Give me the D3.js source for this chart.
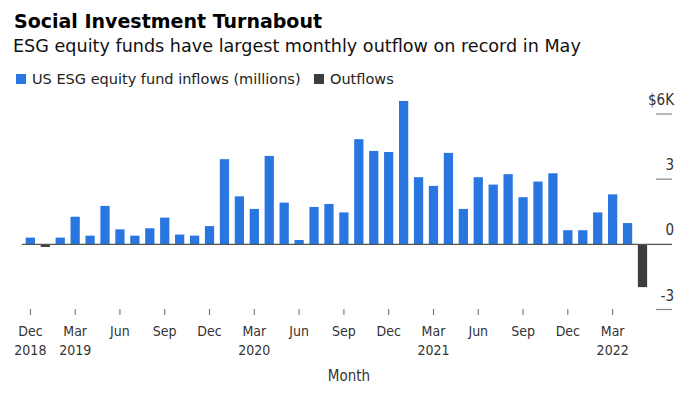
<!DOCTYPE html>
<html>
<head>
<meta charset="utf-8">
<script src="https://cdn.jsdelivr.net/npm/d3@7"></script>
<style>
  body { margin: 0; background: #fff; }
  svg { display: block; font-family: "DejaVu Sans", sans-serif; }
  .title { font-weight: bold; font-size: 19px; fill: #000; }
  .subtitle { font-size: 17.6px; fill: #111; }
  .legend { font-size: 14.5px; fill: #222; }
  .cond { font-family: "DejaVu Sans Condensed", "DejaVu Sans", sans-serif; }
  .tick text { font-size: 14px; fill: #333; }
</style>
</head>
<body>
<svg id="chart" width="700" height="394"></svg>
<script>
// months, Dec 2018 .. May 2022
var months = ["2018-12",
  "2019-01","2019-02","2019-03","2019-04","2019-05","2019-06","2019-07","2019-08","2019-09","2019-10","2019-11","2019-12",
  "2020-01","2020-02","2020-03","2020-04","2020-05","2020-06","2020-07","2020-08","2020-09","2020-10","2020-11","2020-12",
  "2021-01","2021-02","2021-03","2021-04","2021-05","2021-06","2021-07","2021-08","2021-09","2021-10","2021-11","2021-12",
  "2022-01","2022-02","2022-03","2022-04","2022-05"];

// net flows, $ billions (axis shows thousands of millions)
var flows = [0.31,
  -0.12,0.31,1.27,0.40,1.77,0.69,0.40,0.74,1.23,0.45,0.40,0.84,
  3.92,2.21,1.63,4.07,1.92,0.20,1.72,1.86,1.47,4.84,4.30,4.25,
  6.60,3.09,2.69,4.21,1.63,3.09,2.75,3.23,2.17,2.89,3.27,0.65,
  0.65,1.47,2.30,0.98,-1.97];

var xTicks = ["2018-12","2019-03","2019-06","2019-09","2019-12","2020-03","2020-06","2020-09","2020-12","2021-03","2021-06","2021-09","2021-12","2022-03"];
var yTicks = [-3, 0, 3, 6];
var monthNames = ["Jan","Feb","Mar","Apr","May","Jun","Jul","Aug","Sep","Oct","Nov","Dec"];

var inflowColor = "#2a76e0",
    outflowColor = "#3d3d3d";

var svg = d3.select("#chart");

// title block
svg.append("text").attr("class", "title").attr("x", 14).attr("y", 28).text("Social Investment Turnabout");
svg.append("text").attr("class", "subtitle").attr("x", 13).attr("y", 52)
  .text("ESG equity funds have largest monthly outflow on record in May");

// legend
var legend = svg.append("g").attr("class", "legend");
legend.append("rect").attr("x", 16).attr("y", 74).attr("width", 10).attr("height", 10).attr("fill", inflowColor);
legend.append("text").attr("x", 32).attr("y", 84).text("US ESG equity fund inflows (millions)");
legend.append("rect").attr("x", 314).attr("y", 74).attr("width", 10).attr("height", 10).attr("fill", outflowColor);
legend.append("text").attr("x", 330).attr("y", 84).text("Outflows");

var x = d3.scaleBand()
  .domain(months)
  .range([22.9, 22.9 + 14.93 * months.length])
  .paddingInner(0.38)
  .paddingOuter(0.19);

var y = d3.scaleLinear().domain([-3, 6]).range([309.5, 114]);

// bars
svg.append("g").selectAll("rect")
  .data(flows)
  .join("rect")
    .attr("x", function(d, i) { return x(months[i]); })
    .attr("width", x.bandwidth())
    .attr("y", function(d) { return y(Math.max(0, d)); })
    .attr("height", function(d) { return Math.abs(y(d) - y(0)); })
    .attr("fill", function(d) { return d < 0 ? outflowColor : inflowColor; });

// zero line
svg.append("line")
  .attr("x1", 22).attr("x2", 672)
  .attr("y1", y(0)).attr("y2", y(0))
  .attr("stroke", "#555").attr("stroke-width", 1.2);

// right axis: short lines with labels sitting on top
var yAxis = svg.append("g").attr("class", "y-axis cond");
yAxis.selectAll("line")
  .data(yTicks.filter(function(d) { return d !== 0; }))
  .join("line")
    .attr("x1", 656).attr("x2", 672)
    .attr("y1", function(d) { return y(d); }).attr("y2", function(d) { return y(d); })
    .attr("stroke", "#888").attr("stroke-width", 1.2);
yAxis.selectAll("text")
  .data(yTicks)
  .join("text")
    .attr("x", 674)
    .attr("y", function(d) { return y(d) - 9; })
    .attr("text-anchor", "end")
    .attr("font-size", 15)
    .attr("fill", "#333")
    .text(function(d) { return d === 6 ? "$6K" : d; });

// x axis
var xAxis = svg.append("g")
  .attr("class", "cond")
  .attr("transform", "translate(0,309)")
  .call(d3.axisBottom(x).tickValues(xTicks).tickSize(6).tickPadding(0).tickFormat(""));
xAxis.attr("font-family", null);
xAxis.select(".domain").remove();
xAxis.selectAll(".tick line").attr("stroke", "#666");

var seenYears = {};
xAxis.selectAll(".tick text").each(function(d) {
  var parts = d.split("-"),
      yr = parts[0],
      t = d3.select(this).attr("y", 0).attr("dy", null);
  t.append("tspan").attr("x", 0).attr("y", 26.5).text(monthNames[+parts[1] - 1]);
  if (!seenYears[yr]) {
    seenYears[yr] = true;
    t.append("tspan").attr("x", 0).attr("y", 45.5).text(yr);
  }
});

svg.append("text")
  .attr("class", "cond")
  .attr("x", 349).attr("y", 381)
  .attr("text-anchor", "middle")
  .attr("font-size", 15)
  .attr("fill", "#333")
  .text("Month");
</script>
</body>
</html>
